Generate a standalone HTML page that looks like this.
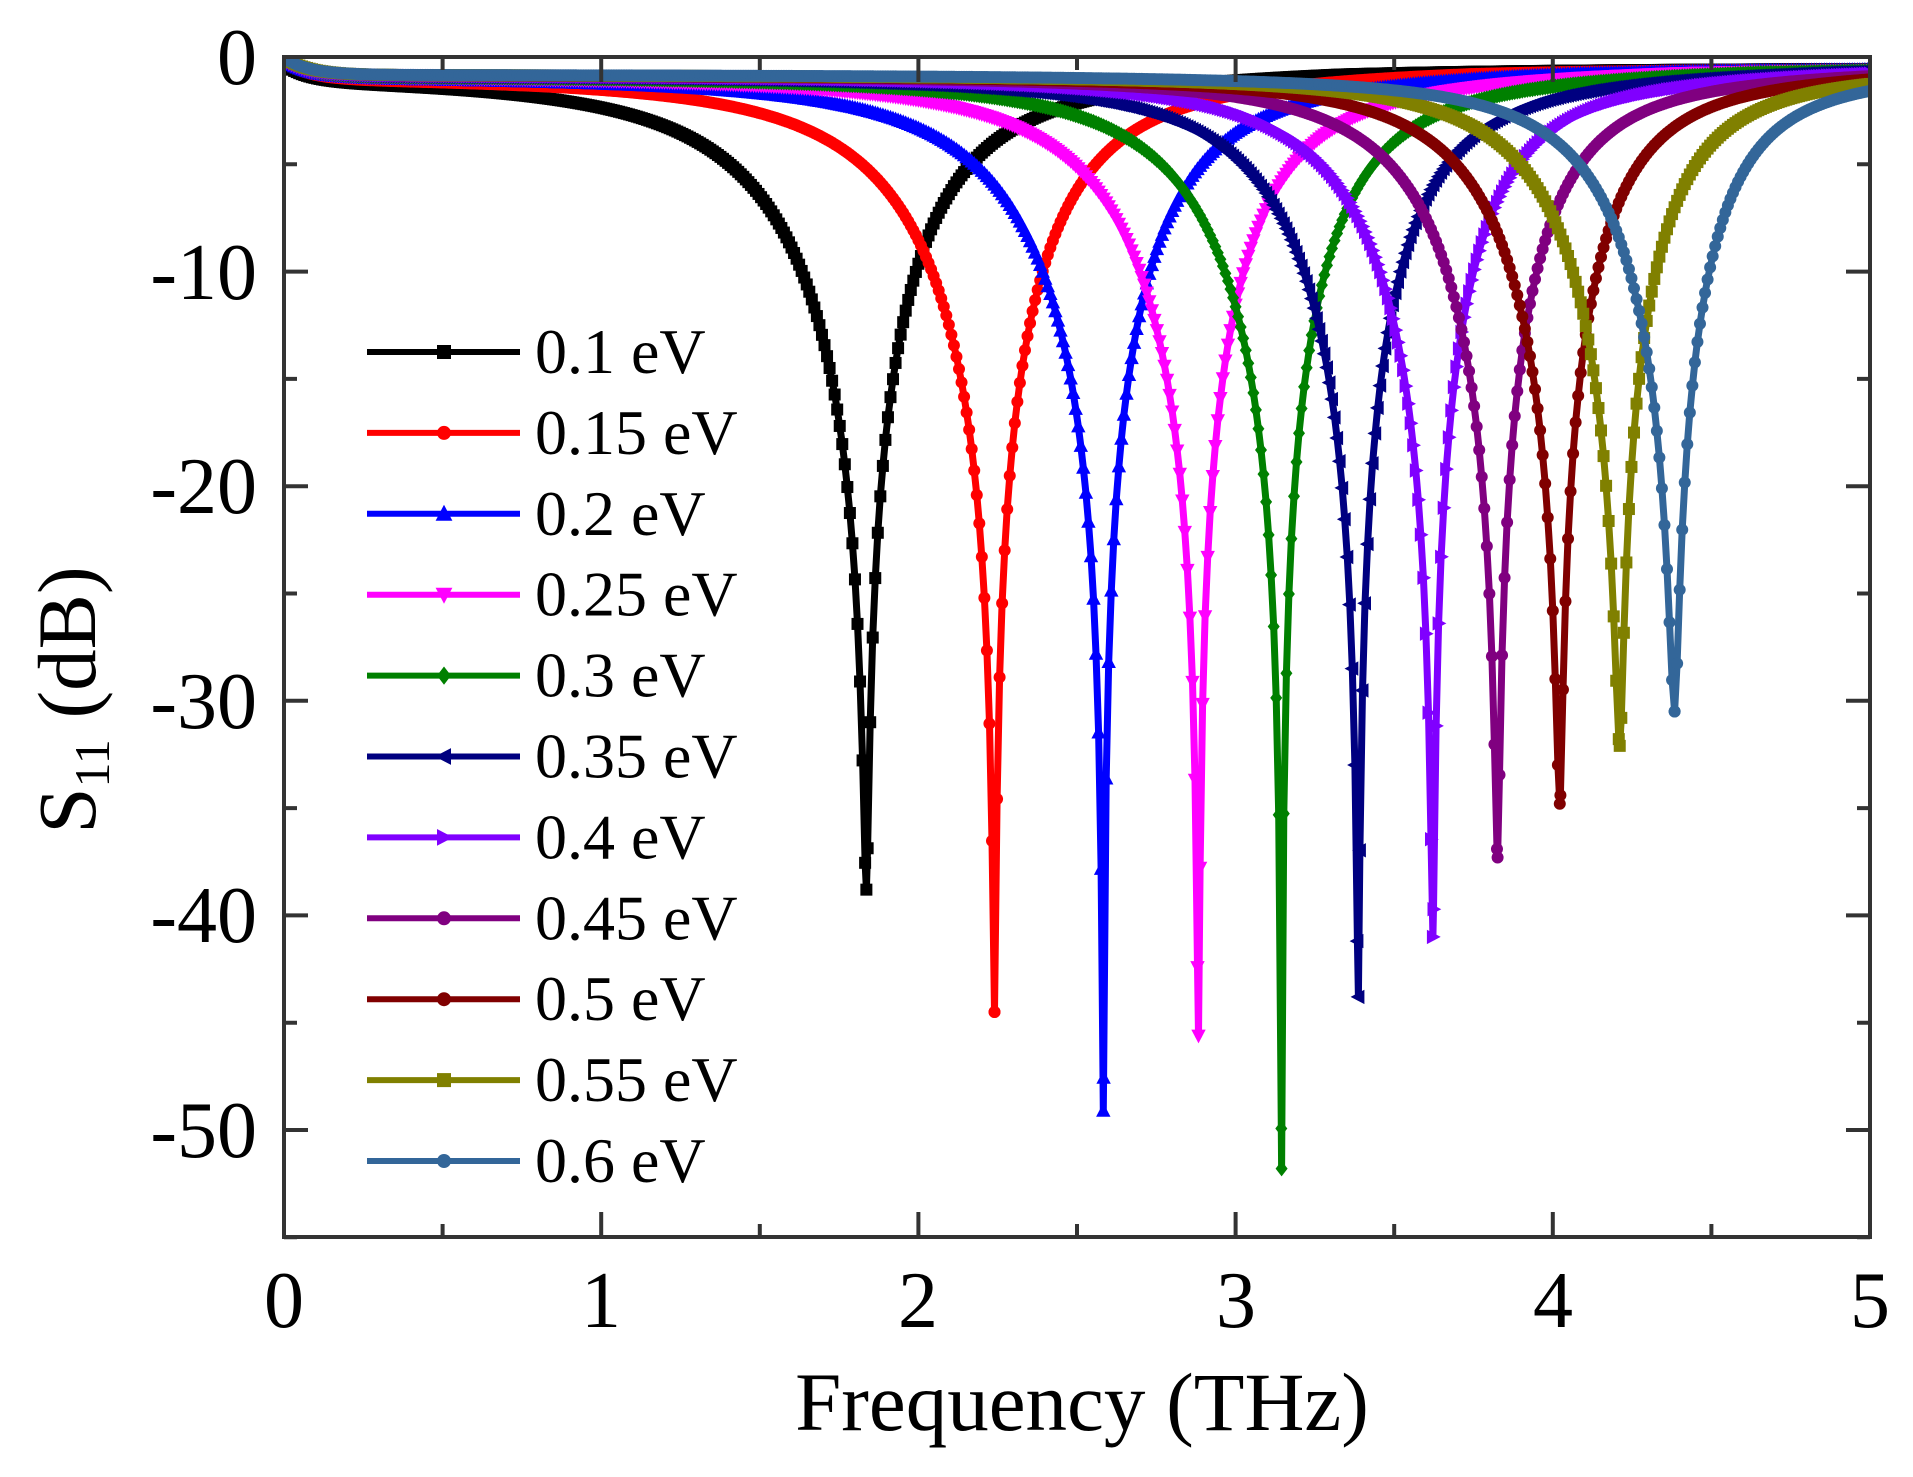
<!DOCTYPE html>
<html><head><meta charset="utf-8"><style>
html,body{margin:0;padding:0;background:#fff;}
svg{display:block;}
text{font-family:"Liberation Serif",serif;fill:#000;}
</style></head><body>
<svg id="s" width="1913" height="1477" viewBox="0 0 1913 1477" xmlns="http://www.w3.org/2000/svg">
<defs><clipPath id="c"><rect x="284" y="57" width="1586" height="1180"/></clipPath></defs>
<g id="curves" clip-path="url(#c)"></g>
<g id="frame" stroke="#333" stroke-width="4" fill="none"></g>
<g font-size="80">
<text x="257" y="84" text-anchor="end">0</text>
<text x="257" y="299" text-anchor="end">-10</text>
<text x="257" y="513" text-anchor="end">-20</text>
<text x="257" y="728" text-anchor="end">-30</text>
<text x="257" y="942" text-anchor="end">-40</text>
<text x="257" y="1157" text-anchor="end">-50</text>
<text x="284" y="1327" text-anchor="middle">0</text>
<text x="601" y="1327" text-anchor="middle">1</text>
<text x="918" y="1327" text-anchor="middle">2</text>
<text x="1236" y="1327" text-anchor="middle">3</text>
<text x="1553" y="1327" text-anchor="middle">4</text>
<text x="1870" y="1327" text-anchor="middle">5</text>
</g>
<text x="1082" y="1430" font-size="83" text-anchor="middle">Frequency (THz)</text>
<text transform="translate(95,700) rotate(-90)" font-size="83" text-anchor="middle">S<tspan font-size="50" dy="14">11</tspan><tspan dy="-14"> (dB)</tspan></text>
<g id="legend" font-size="64"></g>
</svg>
<script>
var NS="http://www.w3.org/2000/svg";
function X(f){return 284+f*317.2;}
function Y(d){return 57-d*21.46;}
var series=[
["0.1 eV","#000000",1.836,-38,"sq"],
["0.15 eV","#ff0000",2.24,-43.7,"ci"],
["0.2 eV","#0000ff",2.583,-48.3,"tu"],
["0.25 eV","#ff00ff",2.883,-44.8,"td"],
["0.3 eV","#008000",3.145,-51,"di"],
["0.35 eV","#000080",3.387,-43,"tl"],
["0.4 eV","#8000ff",3.622,-40.2,"tr"],
["0.45 eV","#800080",3.826,-36.5,"ci"],
["0.5 eV","#800000",4.022,-34,"st"],
["0.55 eV","#808000",4.211,-31.3,"sq"],
["0.6 eV","#336699",4.384,-29.7,"ci"]];
function marker(t,x,y,col,s){
  var e;
  if(t=="sq"){e=document.createElementNS(NS,"rect");e.setAttribute("x",x-s);e.setAttribute("y",y-s);e.setAttribute("width",2*s);e.setAttribute("height",2*s);}
  else if(t=="ci"||t=="st"){e=document.createElementNS(NS,"circle");e.setAttribute("cx",x);e.setAttribute("cy",y);e.setAttribute("r",s);}
  else{var p;
    if(t=="tu")p=[[0,-s*1.3],[s*1.2,s],[-s*1.2,s]];
    else if(t=="td")p=[[0,s*1.3],[s*1.2,-s],[-s*1.2,-s]];
    else if(t=="tl")p=[[-s*1.3,0],[s,s*1.2],[s,-s*1.2]];
    else if(t=="tr")p=[[s*1.3,0],[-s,s*1.2],[-s,-s*1.2]];
    else p=[[0,-s*1.3],[s,0],[0,s*1.3],[-s,0]];
    e=document.createElementNS(NS,"polygon");
    e.setAttribute("points",p.map(function(q){return (x+q[0]).toFixed(1)+","+(y+q[1]).toFixed(1);}).join(" "));}
  e.setAttribute("fill",col);
  return e;
}
var cg=document.getElementById("curves"),lg=document.getElementById("legend");
series.forEach(function(sr,i){
  var f0=sr[2],D=sr[3],col=sr[1],b0=0.5-0.015*i,rho=Math.pow(10,D/20);
  function val(f){var d=f-f0;var b=d<0?b0*1.1:b0*0.85;var a=rho*b;var r2=(d*d+a*a)/(d*d+b*b);
    return 10*Math.log10(r2)-0.8*(1-Math.exp(-f/0.08))*(1-0.4*Math.min(1,Math.max(0,(f-f0)/1.5)));}
  var pts=[],g=document.createElementNS(NS,"g");
  var f=0;
  for(f=0;f<=5.0001;f+=0.008){pts.push([X(f),Y(val(f))]);}
  var path=document.createElementNS(NS,"polyline");
  var all=pts.slice();all.push([X(f0),Y(val(f0))]);all.sort(function(p,q){return p[0]-q[0];});
  path.setAttribute("points",all.map(function(p){return p[0].toFixed(1)+","+p[1].toFixed(1);}).join(" "));
  path.setAttribute("fill","none");path.setAttribute("stroke",col);path.setAttribute("stroke-width","7");path.setAttribute("stroke-linejoin","round");
  g.appendChild(path);
  all.forEach(function(p){g.appendChild(marker(sr[4],p[0],p[1],col,6));});
  cg.appendChild(g);
  var ly=352+i*80.9;
  var l=document.createElementNS(NS,"line");
  l.setAttribute("x1",367);l.setAttribute("x2",520);l.setAttribute("y1",ly);l.setAttribute("y2",ly);
  l.setAttribute("stroke",col);l.setAttribute("stroke-width","6");lg.appendChild(l);
  lg.appendChild(marker(sr[4],444,ly,col,7));
  var t=document.createElementNS(NS,"text");t.setAttribute("x",535);t.setAttribute("y",ly+21);t.textContent=sr[0];lg.appendChild(t);
});
var fr=document.getElementById("frame"),d="M284,57H1870V1237H284Z";
for(var k=0;k<=10;k++){var x=X(k*0.5),L=(k%2==0)?25:13;d+="M"+x+",1237v-"+L+"M"+x+",57v"+L;}
for(var k=0;k<=11;k++){var y=Y(-k*5),L=(k%2==0)?24:13;d+="M284,"+y+"h"+L+"M1870,"+y+"h-"+L;}
var p=document.createElementNS(NS,"path");p.setAttribute("d",d);fr.appendChild(p);
</script>
</body></html>
